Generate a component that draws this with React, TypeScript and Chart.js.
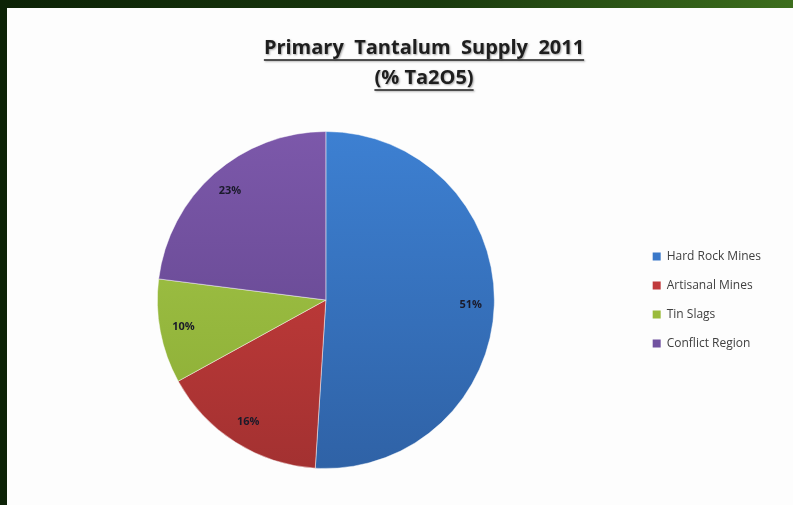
import React, { useEffect, useRef } from "react";
import { Chart, registerables } from "chart.js";

Chart.register(...registerables);

const categories = ["Hard Rock Mines", "Artisanal Mines", "Tin Slags", "Conflict Region"];
const shares = [51, 16, 10, 23];
const shareLabels = ["51%", "16%", "10%", "23%"];
const titleLines = ["Primary  Tantalum  Supply  2011", "(% Ta2O5)"];
const topColors = ["#3d80d2", "#d03f3d", "#a5c84a", "#7c58aa"];
const bottomColors = ["#2f62a6", "#a33131", "#8aab34", "#5d4288"];
const legendColors = ["#3a78c9", "#c0393b", "#9bbb3b", "#7152a0"];

const W = 793;
const H = 505;

const titlePlugin = {
  id: "titlePlugin",
  afterDraw(chart: any) {
    const ctx = chart.ctx;
    ctx.save();
    ctx.font = "bold 20px 'Open Sans', 'Liberation Sans', sans-serif";
    ctx.textAlign = "center";
    ctx.textBaseline = "middle";
    const cx = 424;
    const ys = [48, 78];
    titleLines.forEach((t, i) => {
      const y = ys[i];
      ctx.shadowColor = "rgba(0,0,0,0.35)";
      ctx.shadowOffsetX = 1;
      ctx.shadowOffsetY = 1;
      ctx.shadowBlur = 2;
      ctx.fillStyle = "#1e1e1e";
      ctx.fillText(t, cx, y);
      const w = ctx.measureText(t).width;
      ctx.strokeStyle = "#1e1e1e";
      ctx.lineWidth = 1.5;
      ctx.beginPath();
      ctx.moveTo(cx - w / 2, y + 12);
      ctx.lineTo(cx + w / 2, y + 12);
      ctx.stroke();
    });
    ctx.restore();
  },
};

const labelPlugin = {
  id: "labelPlugin",
  afterDatasetsDraw(chart: any) {
    const ctx = chart.ctx;
    const meta = chart.getDatasetMeta(0);
    ctx.save();
    ctx.font = "bold 11px 'Open Sans', 'Liberation Sans', sans-serif";
    ctx.textAlign = "center";
    ctx.textBaseline = "middle";
    ctx.fillStyle = "#1a1a2a";
    meta.data.forEach((arc: any, i: number) => {
      const { x, y, startAngle, endAngle, outerRadius } = arc.getProps(
        ["x", "y", "startAngle", "endAngle", "outerRadius"],
        true
      );
      const mid = (startAngle + endAngle) / 2;
      const r = outerRadius * 0.86;
      ctx.fillText(shareLabels[i], x + Math.cos(mid) * r, y + Math.sin(mid) * r);
    });
    ctx.restore();
  },
};

export default function App() {
  const ref = useRef<HTMLCanvasElement | null>(null);

  useEffect(() => {
    const canvas = ref.current;
    if (!canvas) return;
    const chart = new Chart(canvas, {
      type: "pie",
      data: {
        labels: categories,
        datasets: [
          {
            data: shares,
            backgroundColor: (c: any) => {
              const chartObj = c.chart;
              const area = chartObj.chartArea;
              const i = c.dataIndex;
              if (!area) return legendColors[i];
              const g = chartObj.ctx.createLinearGradient(0, area.top, 0, area.bottom);
              g.addColorStop(0, topColors[i]);
              g.addColorStop(1, bottomColors[i]);
              return g;
            },
            borderColor: "rgba(255,255,255,0.45)",
            borderWidth: 1,
          },
        ],
      },
      options: {
        responsive: false,
        animation: false,
        layout: { padding: { left: 16, right: 22, top: 131, bottom: 36 } },
        plugins: {
          title: { display: false },
          tooltip: { enabled: false },
          legend: {
            position: "right",
            labels: {
              boxWidth: 8,
              boxHeight: 8,
              padding: 17,
              color: "#404040",
              font: { size: 12, family: "'Open Sans', 'Liberation Sans', sans-serif" },
              generateLabels: () =>
                categories.map((c, i) => ({
                  text: c,
                  fillStyle: legendColors[i],
                  strokeStyle: legendColors[i],
                  lineWidth: 0,
                  hidden: false,
                  index: i,
                  fontColor: "#404040",
                })),
            },
          },
        },
      },
      plugins: [titlePlugin, labelPlugin],
    } as any);
    return () => chart.destroy();
  }, []);

  return (
    <div
      style={{
        position: "fixed",
        left: 0,
        top: 0,
        width: W,
        height: H,
        background: "linear-gradient(90deg, #0c2206 0%, #1a3a0e 55%, #3d6e1d 100%)",
        overflow: "hidden",
      }}
    >
      <div
        style={{
          position: "absolute",
          left: 7,
          top: 8,
          right: 0,
          bottom: 0,
          background: "#fdfdfd",
        }}
      />
      <canvas
        ref={ref}
        width={W}
        height={H}
        style={{ position: "absolute", left: 0, top: 0, display: "block" }}
      />
    </div>
  );
}
